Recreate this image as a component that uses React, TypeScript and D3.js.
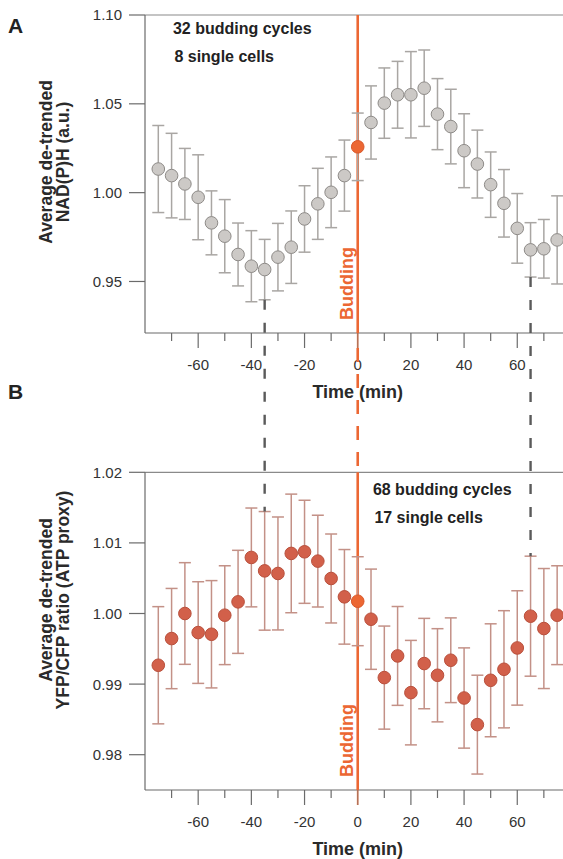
import React from "react";
import * as d3 from "d3";

// ---------- data ----------
const times = [-75, -70, -65, -60, -55, -50, -45, -40, -35, -30, -25, -20, -15, -10, -5, 0, 5, 10, 15, 20, 25, 30, 35, 40, 45, 50, 55, 60, 65, 70, 75];

const nadMean = [1.0133, 1.0096, 1.0049, 0.9974, 0.983, 0.9755, 0.9652, 0.9586, 0.9567, 0.9637, 0.9693, 0.9852, 0.9937, 1.0002, 1.0096, 1.0258, 1.0395, 1.0504, 1.0551, 1.0551, 1.0588, 1.0442, 1.0372, 1.0236, 1.0161, 1.0045, 0.994, 0.9799, 0.9678, 0.9684, 0.9734];
const nadErr = [0.0245, 0.0238, 0.02, 0.0239, 0.018, 0.0206, 0.0177, 0.02, 0.017, 0.019, 0.0204, 0.0187, 0.02, 0.0199, 0.02, 0.019, 0.0206, 0.0198, 0.0188, 0.0243, 0.0215, 0.02, 0.021, 0.0208, 0.0191, 0.0184, 0.019, 0.0196, 0.0153, 0.0165, 0.0248];

const atpMean = [0.99267, 0.99645, 1.0, 0.9973, 0.99706, 0.99976, 1.00165, 1.00794, 1.00604, 1.00567, 1.00851, 1.00874, 1.00742, 1.00496, 1.00236, 1.00174, 0.99919, 0.99092, 0.99399, 0.98879, 0.99291, 0.99125, 0.99338, 0.98803, 0.98426, 0.99054, 0.9921, 0.99512, 0.99962, 0.99787, 0.99976];
const atpErr = [0.0083, 0.0071, 0.0072, 0.0072, 0.0076, 0.007, 0.0073, 0.007, 0.0084, 0.008, 0.0084, 0.0073, 0.0065, 0.0063, 0.0067, 0.0063, 0.0071, 0.0073, 0.007, 0.0074, 0.0064, 0.0066, 0.006, 0.0071, 0.007, 0.008, 0.0083, 0.0081, 0.0085, 0.0085, 0.007];

const xMajorTicks = [-60, -40, -20, 0, 20, 40, 60];
const xMinorTicks = [-70, -50, -30, -10, 10, 30, 50, 70];
const nadTicks = [0.95, 1.0, 1.05, 1.1];
const atpTicks = [0.98, 0.99, 1.0, 1.01, 1.02];
const markerTimes = [-35, 65];
const buddingTime = 0;

const nadNotes = ["32 budding cycles", "8 single cells"];
const atpNotes = ["68 budding cycles", "17 single cells"];

// ---------- styling ----------
const FONT = "'Liberation Sans', Arial, sans-serif";
const ORANGE = "#ec6733";
const AXIS = "#6b6b6b";

const W = 563, H = 859;
const left = 145, right = 563;
const A = { top: 15, bottom: 333 };
const B = { top: 472.3, bottom: 790 };

export default function App() {
  const x = d3.scaleLinear().domain([-80, 77.2]).range([left, right]);
  const yA = d3.scaleLinear().domain([0.921, 1.1]).range([A.bottom, A.top]);
  const yB = d3.scaleLinear().domain([0.975, 1.02]).range([B.bottom, B.top]);

  const panel = (
    key: string,
    y: d3.ScaleLinear<number, number>,
    box: { top: number; bottom: number },
    means: number[],
    errs: number[],
    ticks: number[],
    fmt: (v: number) => string,
    fill: string,
    stroke: string,
    barColor: string,
    notes: string[],
    noteX: number,
    noteY: number,
    label: string[],
    labelCenter: number,
    labelScale: number,
    letter: string,
    letterY: number
  ) => (
    <g key={key}>
      {/* frame */}
      <line x1={left} x2={right} y1={box.top} y2={box.top} stroke="#8a8a8a" strokeWidth={1.2} />
      <line x1={left} x2={left} y1={box.top} y2={box.bottom} stroke={AXIS} strokeWidth={1.2} />
      <line x1={left} x2={right} y1={box.bottom} y2={box.bottom} stroke={AXIS} strokeWidth={1.2} />
      {/* y ticks */}
      {ticks.map((t) => (
        <g key={t}>
          <line x1={left - 16} x2={left} y1={y(t)} y2={y(t)} stroke={AXIS} strokeWidth={1.2} />
          <text x={left - 23} y={y(t)} dy="0.36em" textAnchor="end" fontSize={15} fill="#333" fontFamily={FONT}>
            {fmt(t)}
          </text>
        </g>
      ))}
      {/* x ticks */}
      {xMajorTicks.map((t) => (
        <g key={"M" + t}>
          <line x1={x(t)} x2={x(t)} y1={box.bottom} y2={box.bottom + 15} stroke={AXIS} strokeWidth={1.2} />
          <text x={x(t)} y={box.bottom + 37} textAnchor="middle" fontSize={15} fill="#333" fontFamily={FONT}>
            {t}
          </text>
        </g>
      ))}
      {xMinorTicks.map((t) => (
        <line key={"m" + t} x1={x(t)} x2={x(t)} y1={box.bottom} y2={box.bottom + 8} stroke={AXIS} strokeWidth={1.2} />
      ))}
      <text x={x(0)} y={box.bottom + 65} textAnchor="middle" fontSize={18} fontWeight="bold" fill="#2a2a2a" fontFamily={FONT}>
        Time (min)
      </text>
      {/* y label */}
      <g transform={`translate(${0},${labelCenter}) rotate(-90) scale(${labelScale},1)`}>
        {label.map((l, i) => (
          <text key={i} x={0} y={52 + i * 17} textAnchor="middle" fontSize={17.5} fontWeight="bold" fill="#2a2a2a" fontFamily={FONT}>
            {l}
          </text>
        ))}
      </g>
      <text x={8} y={letterY} fontSize={21} fontWeight="bold" fill="#222" fontFamily={FONT}>
        {letter}
      </text>
      {/* notes */}
      {notes.map((n, i) => (
        <text key={n} x={noteX + i * 1.5} y={noteY + i * 28} fontSize={16} fontWeight="bold" fill="#222" fontFamily={FONT}>
          {n}
        </text>
      ))}
      {/* budding line */}
      <line x1={x(buddingTime)} x2={x(buddingTime)} y1={box.top} y2={box.bottom} stroke={ORANGE} strokeWidth={2.6} />
      <line x1={x(buddingTime)} x2={x(buddingTime)} y1={box.bottom} y2={box.bottom + 15} stroke={ORANGE} strokeOpacity={0.5} strokeWidth={2} />
      <text
        transform={`translate(${x(buddingTime) - 5},${box.bottom - 13}) rotate(-90)`}
        fontSize={18}
        fontWeight="bold"
        fill={ORANGE}
        fontFamily={FONT}
      >
        Budding
      </text>
      {/* error bars */}
      {times.map((t, i) => {
        const cx = x(t);
        const lo = y(means[i] - errs[i]);
        const hi = y(means[i] + errs[i]);
        return (
          <g key={"e" + t} stroke={barColor} strokeWidth={1.5}>
            <line x1={cx} x2={cx} y1={lo} y2={hi} />
            <line x1={cx - 6} x2={cx + 6} y1={lo} y2={lo} />
            <line x1={cx - 6} x2={cx + 6} y1={hi} y2={hi} />
          </g>
        );
      })}
      {/* points */}
      {times.map((t, i) => (
        <circle
          key={"p" + t}
          cx={x(t)}
          cy={y(means[i])}
          r={6.3}
          fill={t === buddingTime ? ORANGE : fill}
          stroke={t === buddingTime ? "#d9582a" : stroke}
          strokeWidth={1}
        />
      ))}
    </g>
  );

  return (
    <svg width={W} height={H} style={{ position: "absolute", left: 0, top: 0, background: "#fff" }}>
      {panel(
        "A", yA, A, nadMean, nadErr, nadTicks, d3.format(".2f"),
        "#ccc9c6", "#8e8b88", "#a9a6a3",
        nadNotes, x(-69.5), 34,
        ["Average de-trended", "NAD(P)H (a.u.)"], 162, 1,
        "A", 33
      )}
      {panel(
        "B", yB, B, atpMean, atpErr, atpTicks, d3.format(".2f"),
        "#d2604a", "#b9503c", "#c39187",
        atpNotes, x(5.7), 495,
        ["Average de-trended", "YFP/CFP ratio (ATP proxy)"], 600, 1,
        "B", 399
      )}
      {/* gap dashed budding line */}
      <line x1={x(buddingTime)} x2={x(buddingTime)} y1={A.bottom + 15} y2={B.top} stroke={ORANGE} strokeWidth={2.6} strokeDasharray="14,12" />
      {/* linking dashed lines */}
      {markerTimes.map((t) => {
        const i = times.indexOf(t);
        return (
          <line
            key={"d" + t}
            x1={x(t)}
            x2={x(t)}
            y1={yA(nadMean[i] - nadErr[i])}
            y2={yB(atpMean[i] + atpErr[i])}
            stroke="#5a5a5a"
            strokeWidth={2.4}
            strokeDasharray="10,13"
          />
        );
      })}
    </svg>
  );
}
